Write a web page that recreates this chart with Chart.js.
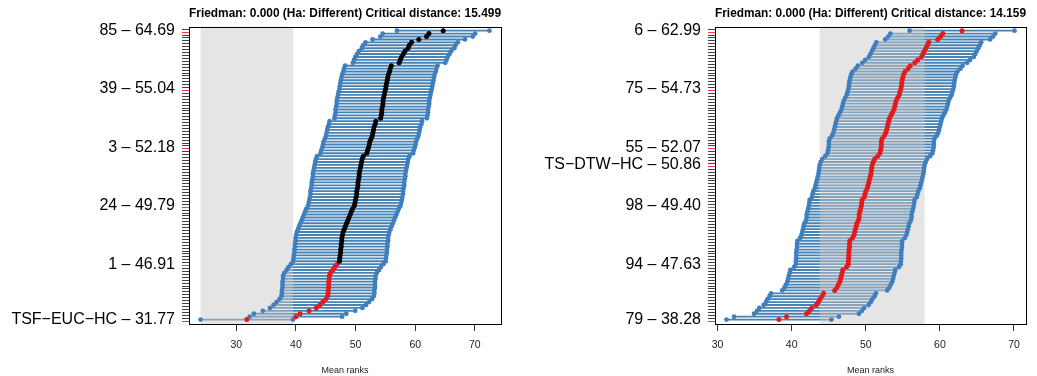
<!DOCTYPE html>
<html>
<head>
<meta charset="utf-8">
<script src="https://cdn.jsdelivr.net/npm/chart.js@4/dist/chart.umd.min.js"></script>
<style>
  html, body { margin: 0; padding: 0; background: #fff; }
  .panel { position: absolute; top: 0; height: 376px; }
  #leftWrap  { left: 0;     width: 518px; }
  #rightWrap { left: 518px; width: 519px; }
</style>
</head>
<body>
<div class="panel" id="leftWrap"><canvas id="leftChart"></canvas></div>
<div class="panel" id="rightWrap"><canvas id="rightChart"></canvas></div>

<script>
// mean ranks, sorted, row 1 = bottom
const leftRanks = [
  31.77, 40.0, 40.7, 42.2, 43.4, 44.0, 44.5, 45.0, 45.3, 45.4,
  45.4, 45.5, 45.5, 45.5, 45.6, 45.6, 45.8, 46.2, 46.5, 46.91,
  47.3, 47.35, 47.4, 47.5, 47.5, 47.6, 47.6, 47.7, 47.7, 47.8,
  47.9, 48.1, 48.3, 48.5, 48.7, 48.9, 49.1, 49.3, 49.5, 49.79,
  49.9, 50.0, 50.1, 50.2, 50.2, 50.3, 50.4, 50.4, 50.5, 50.6,
  50.6, 50.7, 50.8, 50.9, 51.0, 51.1, 51.3, 51.9, 52.0, 52.18,
  52.3, 52.4, 52.6, 52.8, 52.9, 53.0, 53.1, 53.3, 53.4, 54.2,
  54.3, 54.4, 54.4, 54.5, 54.6, 54.6, 54.7, 54.8, 54.9, 55.04,
  55.1, 55.2, 55.3, 55.4, 55.5, 55.7, 55.8, 56.0, 57.3, 57.5,
  57.7, 58.0, 58.3, 58.8, 59.0, 59.4, 60.6, 61.9, 62.3, 64.69
];
const leftLabelRows  = [1, 20, 40, 60, 80, 100];
const leftLabelTexts = ['TSF\u2212EUC\u2212HC \u2013 31.77', '1 \u2013 46.91', '24 \u2013 49.79',
                        '3 \u2013 52.18', '39 \u2013 55.04', '85 \u2013 64.69'];
const leftCD   = 15.499;
const leftBest = 1;

const rightRanks = [
  38.28, 39.3, 42.0, 42.4, 42.7, 43.3, 43.6, 43.8, 44.1, 44.3,
  45.8, 46.1, 46.3, 46.5, 46.6, 46.7, 46.8, 46.9, 47.4, 47.63,
  47.65, 47.7, 47.7, 47.7, 47.75, 47.8, 47.8, 47.85, 48.2, 48.4,
  48.5, 48.6, 48.7, 48.8, 49.0, 49.1, 49.1, 49.2, 49.3, 49.40,
  49.45, 49.5, 49.8, 49.9, 50.0, 50.2, 50.3, 50.4, 50.5, 50.6,
  50.7, 50.75, 50.8, 50.86, 51.0, 51.2, 51.6, 51.9, 52.0, 52.07,
  52.1, 52.1, 52.2, 52.5, 52.7, 52.8, 52.9, 53.0, 53.1, 53.2,
  53.4, 53.6, 53.8, 53.9, 54.0, 54.1, 54.3, 54.5, 54.6, 54.73,
  54.8, 54.85, 54.9, 55.0, 55.1, 55.3, 55.7, 56.0, 56.6, 57.0,
  57.5, 57.7, 57.9, 58.1, 58.3, 58.5, 59.7, 60.1, 60.4, 62.99
];
const rightLabelRows  = [1, 20, 40, 54, 60, 80, 100];
const rightLabelTexts = ['79 \u2013 38.28', '94 \u2013 47.63', '98 \u2013 49.40', 'TS\u2212DTW\u2212HC \u2013 50.86',
                         '55 \u2013 52.07', '75 \u2013 54.73', '6 \u2013 62.99'];
const rightCD   = 14.159;
const rightBest = 54;

const xTicks = [30, 40, 50, 60, 70];

Chart.defaults.font.family = "'Liberation Sans', Arial, sans-serif";
Chart.defaults.color = '#000';

const BLUE = '#3f7fbd';
const LINE = '#4682b4';
const RED  = '#e41a1c';

// gray band (best +/- cd/2), drawn on top of the segments
const bandPlugin = {
  id: 'band',
  afterDatasetDraw(chart, args, opts) {
    if (args.meta.type !== 'bar') return;
    const { ctx, chartArea, scales } = chart;
    const x0 = scales.x.getPixelForValue(opts.from);
    const x1 = scales.x.getPixelForValue(opts.to);
    ctx.save();
    ctx.fillStyle = 'rgba(200,200,200,0.48)';
    ctx.fillRect(x0, chartArea.top, x1 - x0, chartArea.bottom - chartArea.top);
    ctx.restore();
  }
};

// R style box
const boxPlugin = {
  id: 'box',
  afterDraw(chart) {
    const { ctx, chartArea: a } = chart;
    ctx.save();
    ctx.strokeStyle = '#000';
    ctx.lineWidth = 1;
    ctx.strokeRect(Math.round(a.left) + 0.5, Math.round(a.top) + 0.5,
                   Math.round(a.right - a.left), Math.round(a.bottom - a.top));
    ctx.restore();
  }
};

function buildRankChart(canvasId, ranks, cd, best, labelRows, labelTexts, xMin, xMax, axisWidth, padRight) {
  const half = cd / 2;
  const bestRank = ranks[best - 1];
  const labelMap = {};
  labelRows.forEach((r, i) => { labelMap[r] = labelTexts[i]; });

  const segments = ranks.map((v, i) => ({ y: i + 1, x: [v - half, v + half] }));
  const lows     = ranks.map((v, i) => ({ x: v - half, y: i + 1 }));
  const highs    = ranks.map((v, i) => ({ x: v + half, y: i + 1 }));
  const centers  = ranks.map((v, i) => ({ x: v, y: i + 1 }));
  const centerColors = ranks.map(v => Math.abs(v - bestRank) <= cd ? RED : '#000');

  const ctx = document.getElementById(canvasId).getContext('2d');
  new Chart(ctx, {
    type: 'scatter',
    data: {
      datasets: [
        {
          type: 'bar', indexAxis: 'y', data: segments, order: 3,
          backgroundColor: LINE, borderWidth: 0, barThickness: 1.2,
        },
        { data: lows,  order: 2, pointRadius: 2.4, pointBackgroundColor: BLUE, pointBorderWidth: 0 },
        { data: highs, order: 2, pointRadius: 2.4, pointBackgroundColor: BLUE, pointBorderWidth: 0 },
        { data: centers, order: 1, pointRadius: 2.5, pointBackgroundColor: centerColors, pointBorderWidth: 0 },
      ]
    },
    options: {
      responsive: true,
      maintainAspectRatio: false,
      animation: false,
      layout: { padding: { left: 0, right: padRight, top: 0, bottom: 0 } },
      plugins: {
        legend: { display: false },
        tooltip: { enabled: false },
        title: {
          display: true,
          fullSize: false,
          text: 'Friedman: 0.000 (Ha: Different) Critical distance: ' + cd.toFixed(3),
          font: { size: 12.9, weight: 'bold' },
          color: '#000',
          padding: { top: 5.5, bottom: 5.6 },
        },
        band: { from: bestRank - half, to: bestRank + half },
      },
      scales: {
        x: {
          type: 'linear', min: xMin, max: xMax,
          afterBuildTicks: s => { s.ticks = xTicks.map(v => ({ value: v })); },
          afterFit: s => { s.height = 52; },
          grid: { drawOnChartArea: false, tickLength: 7, color: '#333' },
          border: { display: false },
          ticks: { font: { size: 10.5 }, color: '#222', padding: 8 },
          title: { display: true, text: 'Mean ranks', font: { size: 9 }, color: '#222', padding: { top: 0, bottom: 0 } },
        },
        y: {
          type: 'linear', min: 0, max: 100.9,
          afterBuildTicks: s => { s.ticks = ranks.map((v, i) => ({ value: i + 1 })); },
          afterFit: s => { s.width = axisWidth; },
          grid: {
            drawOnChartArea: false, tickLength: 7,
            color: c => (c.tick && labelMap[c.tick.value]) ? '#ff3b3b' : '#444',
          },
          border: { display: false },
          ticks: {
            autoSkip: false, padding: 7, color: '#000',
            font: { size: 16 },
            callback: v => labelMap[v] || '',
          },
        }
      }
    },
    plugins: [bandPlugin, boxPlugin]
  });
}

buildRankChart('leftChart',  leftRanks,  leftCD,  leftBest,  leftLabelRows,  leftLabelTexts,  22.08, 74.38, 189, 17);
buildRankChart('rightChart', rightRanks, rightCD, rightBest, rightLabelRows, rightLabelTexts, 29.65, 71.62, 197, 11);
</script>
</body>
</html>
